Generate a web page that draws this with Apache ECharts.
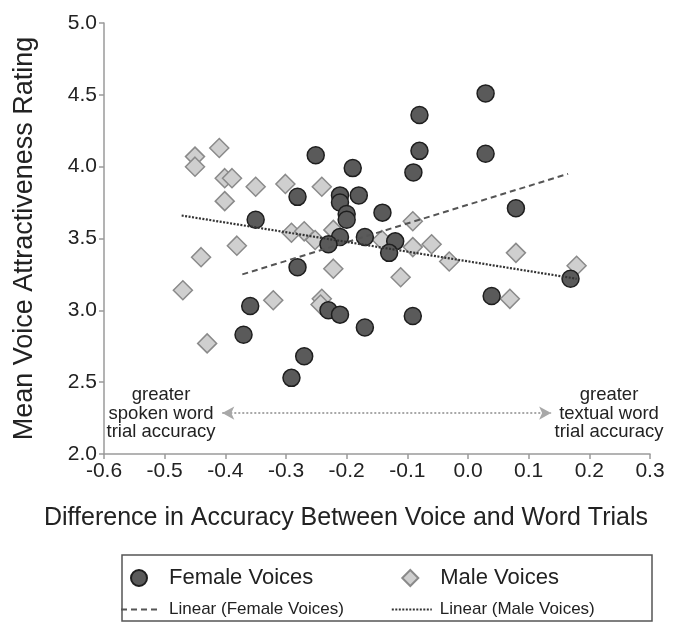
<!DOCTYPE html>
<html><head><meta charset="utf-8">
<script src="https://cdn.jsdelivr.net/npm/echarts@6/dist/echarts.min.js"></script>
<style>html,body{margin:0;padding:0;background:#fff}#c{width:692px;height:624px}</style>
</head><body><div id="c"></div>
<script>
// ---- data ----
const femaleX = [0.029,-0.080,-0.080,0.029,-0.251,-0.190,-0.090,-0.281,-0.211,-0.211,-0.180,-0.200,-0.200,-0.141,-0.211,-0.230,-0.170,-0.120,-0.130,-0.281,-0.230,-0.211,-0.091,-0.170,-0.350,-0.359,-0.370,0.079,0.169,0.039,-0.270,-0.291];
const femaleY = [4.51,4.36,4.11,4.09,4.08,3.99,3.96,3.79,3.80,3.75,3.80,3.67,3.63,3.68,3.51,3.46,3.51,3.48,3.40,3.30,3.00,2.97,2.96,2.88,3.63,3.03,2.83,3.71,3.22,3.10,2.68,2.53];
const maleX = [-0.450,-0.450,-0.410,-0.401,-0.389,-0.401,-0.350,-0.301,-0.241,-0.381,-0.440,-0.470,-0.430,-0.321,-0.241,-0.243,-0.291,-0.270,-0.252,-0.222,-0.222,-0.142,-0.091,-0.091,-0.060,-0.031,-0.111,0.079,0.179,0.069];
const maleY = [4.07,4.00,4.13,3.92,3.92,3.76,3.86,3.88,3.86,3.45,3.37,3.14,2.77,3.07,3.08,3.04,3.54,3.55,3.49,3.56,3.29,3.49,3.62,3.44,3.46,3.34,3.23,3.40,3.31,3.08];
const femaleTrendX = [-0.372, 0.165];
const femaleTrendY = [3.25, 3.95];
const maleTrendX = [-0.472, 0.179];
const maleTrendY = [3.66, 3.22];
const seriesNames = ['Female Voices','Male Voices','Linear (Female Voices)','Linear (Male Voices)'];
const xTitle = 'Difference in Accuracy Between Voice and Word Trials';
const yTitle = 'Mean Voice Attractiveness Rating';
const leftNote = 'greater\nspoken word\ntrial accuracy';
const rightNote = 'greater\ntextual word\ntrial accuracy';
const arrowX = [-0.405, 0.137];
const arrowY = 2.285;

const zip = (a,b) => a.map((v,i)=>[v,b[i]]);
const FONT = "'Liberation Sans', Arial, sans-serif";
const chart = echarts.init(document.getElementById('c'), null, {renderer:'canvas'});
chart.setOption({
  animation:false,
  backgroundColor:'#fff',
  textStyle:{fontFamily:FONT},
  grid:{left:104, top:23, width:546, height:431, containLabel:false},
  xAxis:{type:'value', min:-0.6, max:0.3, interval:0.1,
    name:xTitle, nameLocation:'middle', nameGap:52,
    nameTextStyle:{fontSize:25, color:'#222', fontFamily:FONT, padding:[0,62,0,0]},
    axisLine:{onZero:false, lineStyle:{color:'#9a9a9a', width:1.5}},
    axisTick:{show:true, length:5, lineStyle:{color:'#9a9a9a', width:1.5}},
    axisLabel:{fontSize:21, color:'#222', margin:7, formatter:v=>v.toFixed(1)},
    splitLine:{show:false}},
  yAxis:{type:'value', min:2, max:5, interval:0.5,
    name:yTitle, nameLocation:'middle', nameGap:66,
    nameTextStyle:{fontSize:27, color:'#222', fontFamily:FONT},
    axisLine:{show:true, onZero:false, lineStyle:{color:'#9a9a9a', width:1.5}},
    axisTick:{show:true, length:5, lineStyle:{color:'#9a9a9a', width:1.5}},
    axisLabel:{fontSize:21, color:'#222', margin:7, formatter:v=>v.toFixed(1)},
    splitLine:{show:false}},
  legend:[
    {data:[seriesNames[0],seriesNames[1]], left:130, top:567, padding:0, orient:'horizontal',
     itemWidth:16, itemHeight:16, itemGap:88,
     textStyle:{fontSize:22, color:'#222', fontFamily:FONT, padding:[0,0,0,17]}},
    {data:[seriesNames[2],seriesNames[3]], left:120, top:601, padding:0,
     itemWidth:40, itemHeight:14, itemGap:47,
     itemStyle:{opacity:0},
     textStyle:{fontSize:17, color:'#222', fontFamily:FONT, padding:[0,0,0,3]}}
  ],
  series:[
    {name:seriesNames[1], type:'scatter', symbol:'diamond', symbolSize:19, z:2,
     itemStyle:{color:'#cfcfcf', borderColor:'#8a8a8a', borderWidth:1.5, opacity:1},
     data:zip(maleX,maleY),
     markLine:{silent:true, symbol:['arrow','arrow'], symbolSize:[10,12], label:{show:false},
       lineStyle:{color:'#a8a8a8', type:[2,2], width:2},
       data:[[{coord:[arrowX[0],arrowY]},{coord:[arrowX[1],arrowY]}]]}},
    {name:seriesNames[0], type:'scatter', symbol:'circle', symbolSize:17, z:3,
     itemStyle:{color:'#5a5a5a', borderColor:'#1e1e1e', borderWidth:1.5, opacity:1},
     data:zip(femaleX,femaleY)},
    {name:seriesNames[2], type:'line', symbol:'none', z:4,
     itemStyle:{color:'#555'},
     lineStyle:{color:'#555', type:[6,4], width:2},
     data:zip(femaleTrendX,femaleTrendY)},
    {name:seriesNames[3], type:'line', symbol:'none', z:4,
     itemStyle:{color:'#333'},
     lineStyle:{color:'#333', type:[2,1.5], width:2.2},
     data:zip(maleTrendX,maleTrendY)}
  ],
  graphic:[
    {type:'text', x:161, y:386, style:{text:leftNote, font:"18.5px "+FONT, fill:'#222', align:'center', lineHeight:18.5}},
    {type:'text', x:609, y:386, style:{text:rightNote, font:"18.5px "+FONT, fill:'#222', align:'center', lineHeight:18.5}},
    {type:'rect', shape:{x:122, y:555, width:530, height:66}, style:{fill:'none', stroke:'#555', lineWidth:1.5}}
  ]
});
</script></body></html>
